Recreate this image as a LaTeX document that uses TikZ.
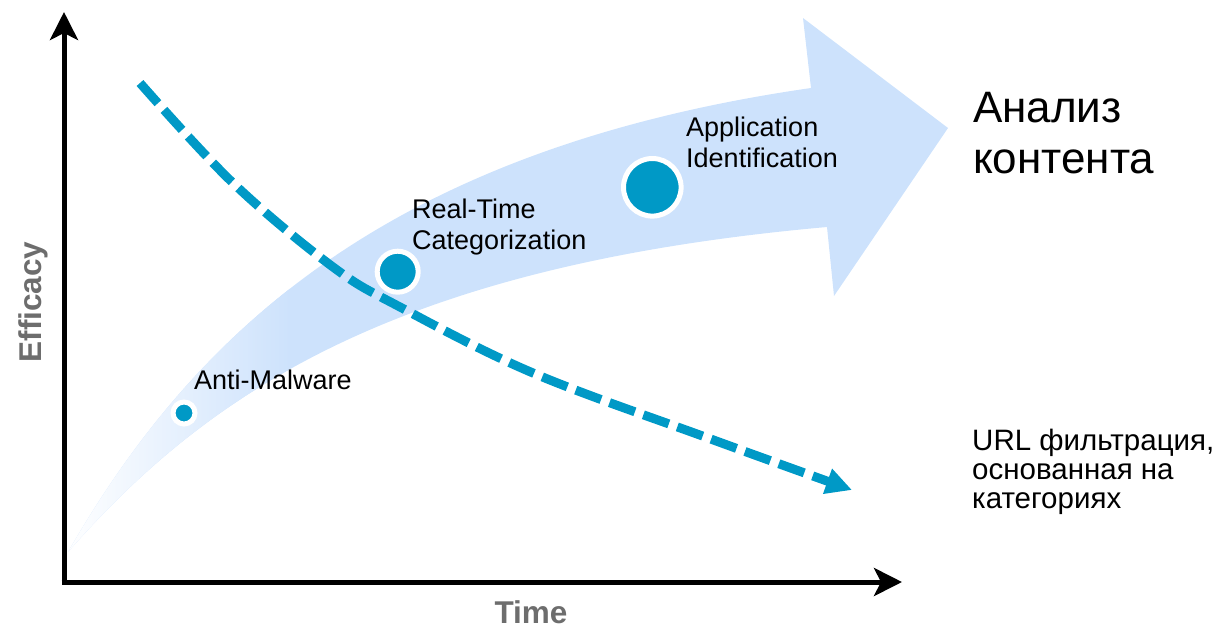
\documentclass[tikz,border=0pt]{standalone}
\usepackage{fontspec}
\setmainfont{Liberation Sans}
\usetikzlibrary{arrows.meta}
\definecolor{flowblue}{RGB}{205,226,252}
\definecolor{trendteal}{RGB}{0,153,198}
\definecolor{axisgray}{RGB}{109,109,109}
\begin{document}
\begin{tikzpicture}[x=1pt,y=-1pt,
  lbl/.style={anchor=base west, inner sep=0pt, align=left, font=\fontsize{27}{30.5}\selectfont},
  dot/.style={circle, fill=trendteal, draw=white, line width=5pt, inner sep=0pt},
  axis/.style={line width=5pt, -{Stealth[length=28pt,width=28pt,inset=7pt]}},
  axlbl/.style={font=\fontsize{31.5}{31.5}\selectfont\bfseries, text=axisgray, inner sep=0pt}]
\useasboundingbox (0,0) rectangle (1223,629);

% broad curved arrow, fading to white near the origin
\def\flowpath{(68,552) .. controls (190,340) and (380,150) .. (811,88) -- (803,18) -- (948,128) -- (834,296) -- (827,227) .. controls (400,265) and (210,390) .. (68,552) -- cycle}
\fill[flowblue] \flowpath;
\begin{scope}
  \clip \flowpath;
  \shade[left color=white, right color=flowblue] (64,0) rectangle (290,629);
\end{scope}

% falling trend of URL filtering
\draw[trendteal, line width=9pt, dash pattern=on 27pt off 9pt,
      -{Triangle[length=26pt,width=25pt]}]
  plot[smooth, tension=0.6] coordinates {(140,83) (233,183) (333,267) (400,307) (533,373) (708,438) (852,490)};

% milestones
\node[dot, minimum size=22pt] (am) at (184,413) {};
\node[dot, minimum size=41pt] (rt) at (397.7,271.7) {};
\node[dot, minimum size=57.6pt] (ai) at (652.3,187.3) {};

% labels (multi-line nodes sit on the baseline of their last line)
\node[lbl] (amlbl) at (194,389) {Anti-Malware};
\node[lbl] (rtlbl) at (412,249) {Real-Time\\Categorization};
\node[lbl] (ailbl) at (686,167) {Application\\Identification};
\node[lbl, font=\fontsize{44}{51}\selectfont] (content) at (973,173) {Анализ\\контента};
\node[lbl, font=\fontsize{29.5}{29}\selectfont] (url) at (972,508) {URL фильтрация,\\основанная на\\категориях};

% axes
\coordinate (xstart) at (61.5,582);
\coordinate (xend) at (902,582);
\coordinate (ystart) at (64,584.5);
\coordinate (yend) at (64,12);
\draw[axis] (xstart) -- (xend);
\draw[axis] (ystart) -- (yend);

\node[axlbl, anchor=base] (time) at (531,623) {Time};
\node[axlbl, rotate=90, anchor=base] (eff) at (41,302) {Efficacy};
\end{tikzpicture}
\end{document}
